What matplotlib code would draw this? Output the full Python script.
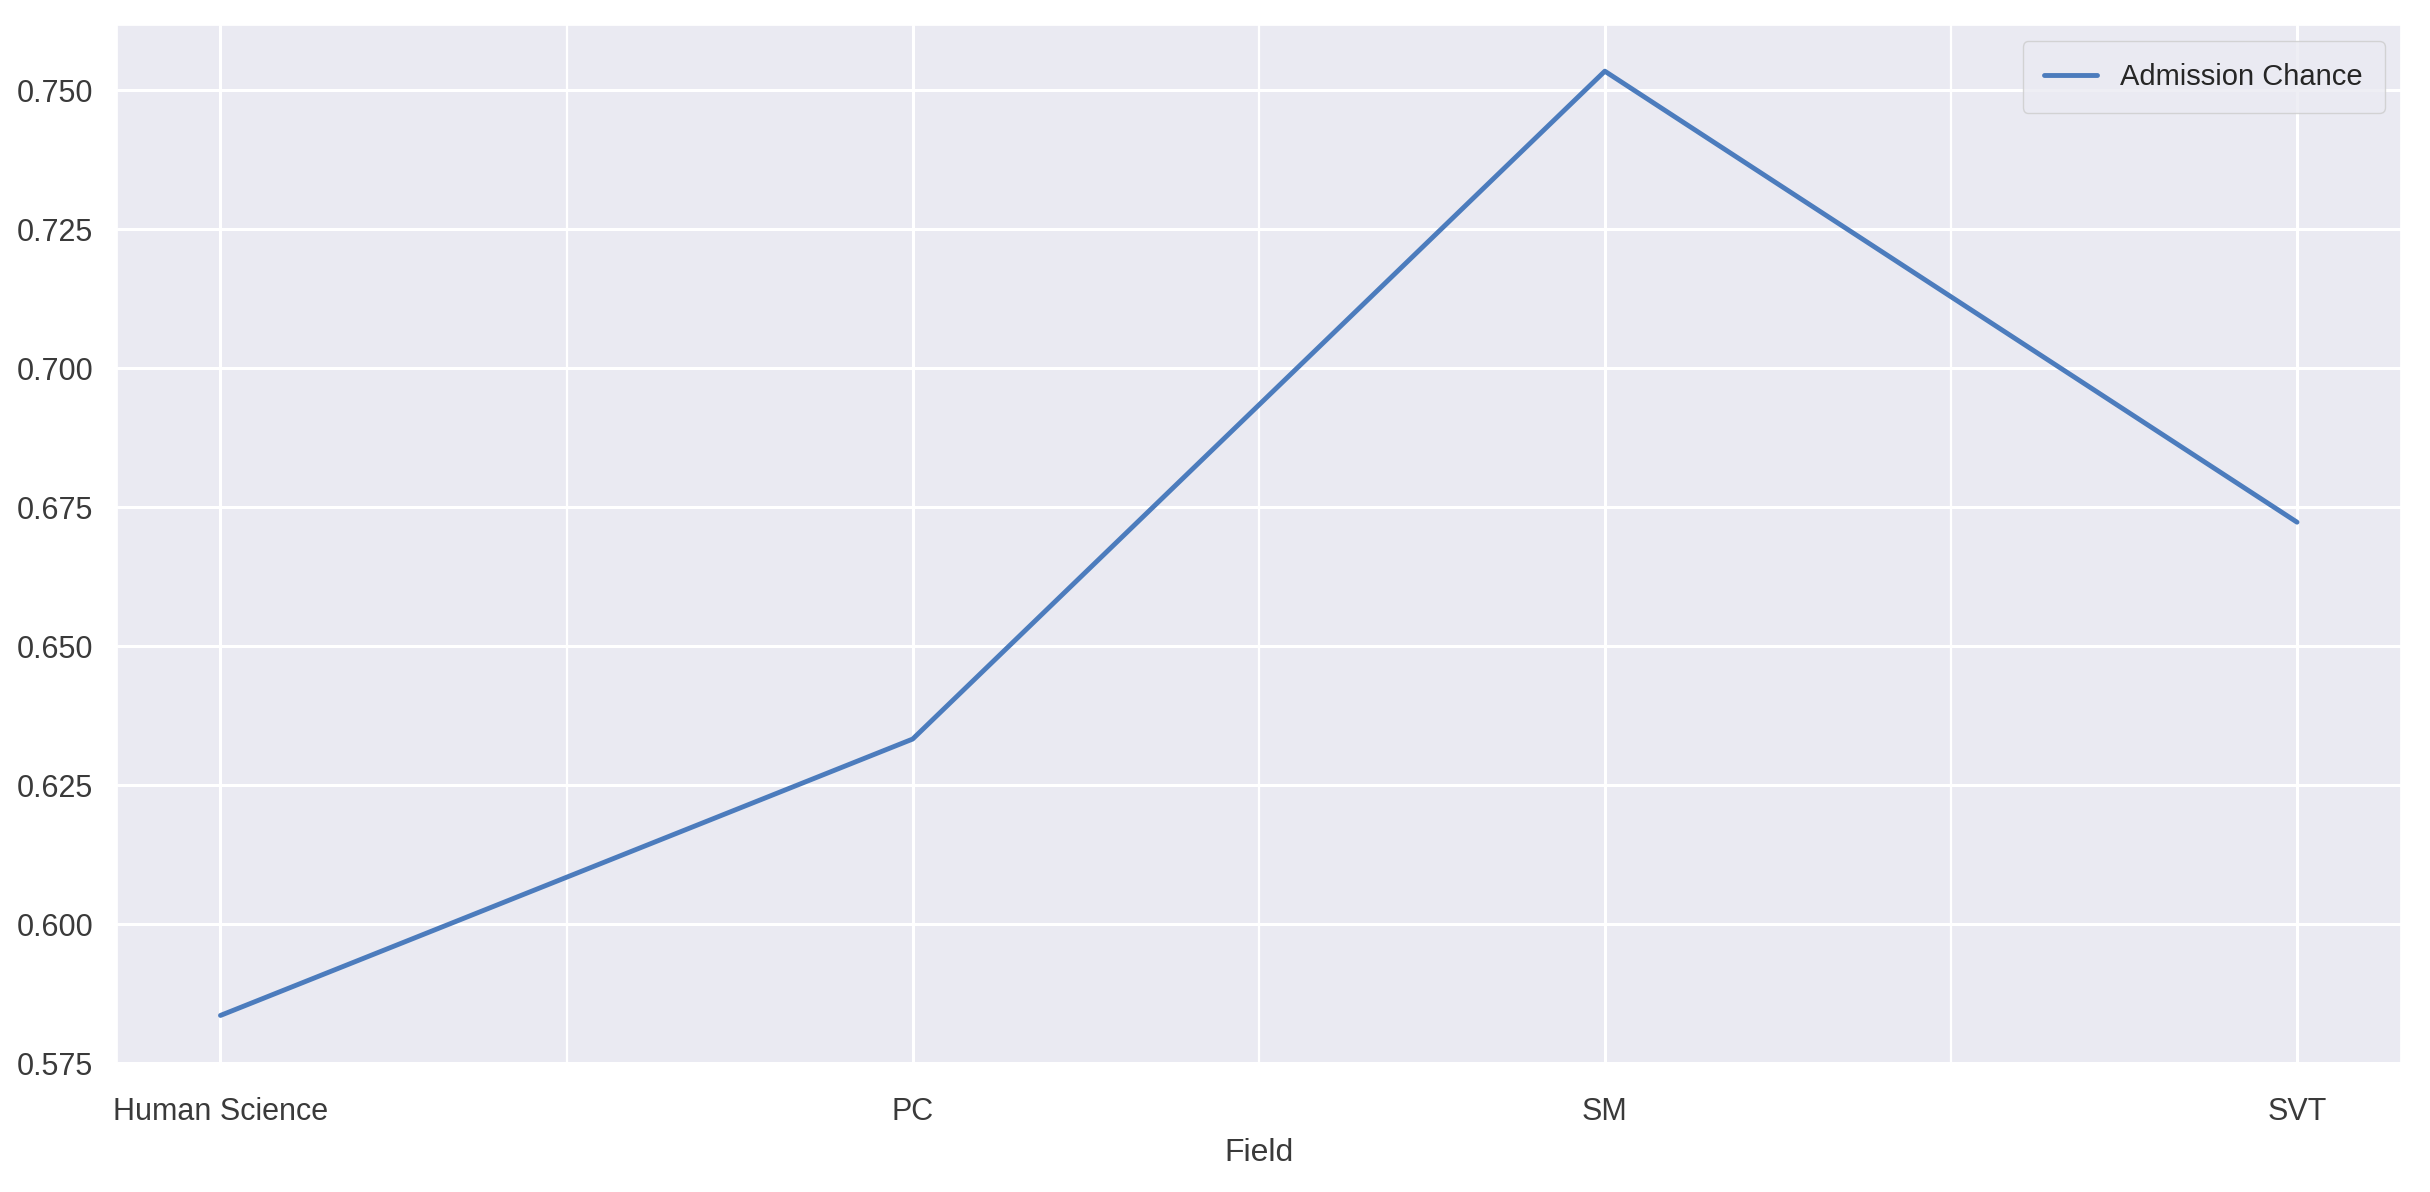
import numpy as np
import matplotlib
matplotlib.use("Agg")
import matplotlib.pyplot as plt
import seaborn as sns

# datos
fields = ["Human Science", "PC", "SM", "SVT"]
admission_chance = [0.5836, 0.6333, 0.7534, 0.6723]
y_ticks = [0.575, 0.600, 0.625, 0.650, 0.675, 0.700, 0.725, 0.750]

sns.set_theme(style="darkgrid")
plt.rcParams['font.family'] = ['Liberation Sans', 'DejaVu Sans']

fig, ax = plt.subplots(figsize=(24.3, 11.92), dpi=100)
fig.subplots_adjust(left=0.048, right=0.988, top=0.979, bottom=0.108)

x = np.arange(len(fields))
ax.plot(x, admission_chance, color="#4C7CBD", linewidth=3.5, label="Admission Chance")

ax.set_xticks(x)
ax.set_xticklabels(fields)
ax.set_xticks(x[:-1] + 0.5, minor=True)
ax.grid(True, which="minor", axis="x", color="white", linewidth=1.6)
ax.grid(True, which="major", color="white", linewidth=2.2)
ax.set_yticks(y_ticks)
ax.set_yticklabels([f"{v:.3f}" for v in y_ticks])
ax.set_ylim(0.575, 0.7617)

ax.tick_params(axis="x", which="major", labelsize=22, colors="#3a3a3a", pad=18)
ax.tick_params(axis="y", which="major", labelsize=22, colors="#3a3a3a", pad=11)
ax.tick_params(axis="x", which="minor", length=0)
ax.set_xlabel("Field", fontsize=23, color="#3a3a3a", labelpad=8)

ax.legend(loc="upper right", fontsize=21, frameon=True, handlelength=1.8,
          borderpad=0.75, borderaxespad=0.55, facecolor="#EAEAF2", edgecolor="#CCCCCC")

fig.savefig("out.png", dpi=100)
